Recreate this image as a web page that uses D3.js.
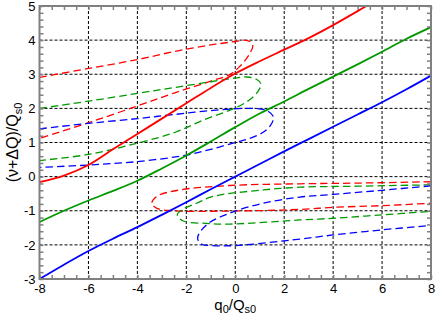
<!DOCTYPE html>
<html>
<head>
<meta charset="utf-8">
<script src="https://cdn.jsdelivr.net/npm/d3@7"></script>
<style>
body { margin: 0; background: #fff; }
text { font-family: "Liberation Sans", Arial, sans-serif; }
</style>
</head>
<body>
<svg id="chart" width="436" height="318"></svg>
<script>
// tick labels
var xTicks = [-8, -6, -4, -2, 0, 2, 4, 6, 8];
var yTicks = [-3, -2, -1, 0, 1, 2, 3, 4, 5];

// solid curves [q0/Qs0, (v+dQ)/Qs0]
var redSolid = [[-8,-0.16],[-7,0.03],[-6,0.34],[-5,0.8],[-4,1.25],[-3,1.7],[-2,2.15],[-1,2.6],[0,3.02],[1,3.38],[2,3.72],[3,4.06],[4,4.44],[5,4.85],[5.6,5.1]];
var greenSolid = [[-8,-1.33],[-7,-1.0],[-6,-0.7],[-5,-0.42],[-4,-0.12],[-3,0.24],[-2,0.62],[-1,1.03],[0,1.45],[1,1.85],[2,2.2],[3,2.57],[4,2.93],[5,3.29],[6,3.66],[7,4.04],[8,4.38]];
var blueSolid = [[-8,-3.0],[-7,-2.58],[-6,-2.18],[-5,-1.82],[-4,-1.48],[-3,-1.12],[-2,-0.75],[-1,-0.37],[0,0],[1,0.37],[2,0.74],[3,1.1],[4,1.46],[5,1.82],[6,2.18],[7,2.56],[8,2.96]];

// dashed loops, upper set (open to the left)
var redLoopUp = [[-8,2.91],[-6,3.17],[-4,3.43],[-2.4,3.68],[-1,3.86],[0,3.96],[0.35,4.0],[0.6,3.96],[0.72,3.84],[0.62,3.64],[0.45,3.45],[0.2,3.24],[-0.2,3.0],[-1,2.8],[-2.5,2.45],[-4,2.07],[-6,1.58],[-8,1.12]];
var greenLoopUp = [[-8,2.0],[-6,2.21],[-4,2.44],[-2.5,2.61],[-1,2.78],[0,2.89],[0.46,2.92],[0.85,2.86],[1.05,2.71],[0.93,2.5],[0.6,2.26],[0.06,2.03],[-1.3,1.66],[-2.45,1.3],[-4,0.98],[-6,0.65],[-8,0.47]];
var blueLoopUp = [[-8,1.4],[-6,1.56],[-4,1.7],[-2.5,1.82],[-0.6,1.96],[0.6,2.0],[1.28,1.94],[1.56,1.75],[1.44,1.5],[1.14,1.3],[0.6,1.12],[0,1.0],[-1,0.8],[-2,0.63],[-4,0.44],[-6,0.34],[-8,0.27]];

// dashed loops, lower set (open to the right)
var redLoopLow = [[8,-0.15],[5,-0.19],[2.64,-0.21],[-0.22,-0.26],[-2.26,-0.39],[-3.21,-0.58],[-3.41,-0.78],[-3.2,-0.93],[-2.53,-1.0],[-0.22,-1.01],[2.64,-0.96],[4,-0.9],[6,-0.85],[8,-0.78]];
var greenLoopLow = [[8,-0.24],[5,-0.28],[2.64,-0.31],[1.14,-0.39],[-0.9,-0.58],[-1.58,-0.78],[-2.12,-0.95],[-2.37,-1.12],[-2.12,-1.3],[-1.2,-1.37],[-0.22,-1.39],[2.64,-1.27],[4,-1.22],[6,-1.12],[8,-1.02]];
var blueLoopLow = [[8,-0.27],[6,-0.4],[4,-0.52],[2.64,-0.6],[1.14,-0.78],[-0.22,-1.07],[-1.17,-1.41],[-1.54,-1.8],[-1.37,-1.98],[-1.03,-2.02],[0,-2.02],[2.64,-1.83],[4,-1.71],[6,-1.56],[8,-1.43]];

var plotL = 39.5, plotR = 431, plotT = 6, plotB = 279;

var svg = d3.select("#chart");

var x = d3.scaleLinear().domain([-8, 8]).range([plotL, plotR]);
var y = d3.scaleLinear().domain([-3, 5]).range([plotB, plotT]);

var xMinor = d3.range(-8, 8.01, 0.5);
var yMinor = d3.range(-3, 5.01, 0.2);

// grid
var grid = svg.append("g")
  .attr("stroke", "#000")
  .attr("stroke-width", 1)
  .attr("stroke-dasharray", "3,2");
grid.selectAll(".gx")
  .data(xTicks.slice(1, -1))
  .enter().append("line")
    .attr("x1", function (d) { return x(d); })
    .attr("x2", function (d) { return x(d); })
    .attr("y1", plotT)
    .attr("y2", plotB);
grid.selectAll(".gy")
  .data(yTicks.slice(1, -1))
  .enter().append("line")
    .attr("x1", plotL)
    .attr("x2", plotR)
    .attr("y1", function (d) { return y(d); })
    .attr("y2", function (d) { return y(d); });

// curves
svg.append("clipPath").attr("id", "clip")
  .append("rect")
    .attr("x", plotL).attr("y", plotT)
    .attr("width", plotR - plotL).attr("height", plotB - plotT);

var line = d3.line()
  .x(function (d) { return x(d[0]); })
  .y(function (d) { return y(d[1]); })
  .curve(d3.curveCatmullRom.alpha(0.5));

var curves = [
  {pts: redLoopUp, color: "#ff0000", dash: true},
  {pts: greenLoopUp, color: "#009a00", dash: true},
  {pts: blueLoopUp, color: "#0000ff", dash: true},
  {pts: redLoopLow, color: "#ff0000", dash: true},
  {pts: greenLoopLow, color: "#009a00", dash: true},
  {pts: blueLoopLow, color: "#0000ff", dash: true},
  {pts: redSolid, color: "#ff0000", dash: false},
  {pts: greenSolid, color: "#009a00", dash: false},
  {pts: blueSolid, color: "#0000ff", dash: false}
];

svg.append("g")
  .attr("clip-path", "url(#clip)")
  .selectAll("path")
  .data(curves)
  .enter().append("path")
    .attr("d", function (d) { return line(d.pts); })
    .attr("fill", "none")
    .attr("stroke", function (d) { return d.color; })
    .attr("stroke-width", function (d) { return d.dash ? 1.3 : 1.8; })
    .attr("stroke-dasharray", function (d) { return d.dash ? "7.5,4" : null; });

// minor ticks on all four sides, pointing inward
function tickStyle(g) {
  g.select(".domain").remove();
  g.selectAll(".tick line").attr("stroke", "#808080").attr("stroke-width", 1.5);
}
svg.append("g").attr("transform", "translate(0," + plotB + ")")
  .call(d3.axisBottom(x).tickValues(xMinor).tickSize(-4).tickFormat(""))
  .call(tickStyle);
svg.append("g").attr("transform", "translate(0," + plotT + ")")
  .call(d3.axisTop(x).tickValues(xMinor).tickSize(-4).tickFormat(""))
  .call(tickStyle);
svg.append("g").attr("transform", "translate(" + plotL + ",0)")
  .call(d3.axisLeft(y).tickValues(yMinor).tickSize(-4).tickFormat(""))
  .call(tickStyle);
svg.append("g").attr("transform", "translate(" + plotR + ",0)")
  .call(d3.axisRight(y).tickValues(yMinor).tickSize(-4).tickFormat(""))
  .call(tickStyle);

// labelled axes
var fmt = function (d) { return String(d); };
var xAxis = svg.append("g").attr("transform", "translate(0," + plotB + ")")
  .call(d3.axisBottom(x).tickValues(xTicks).tickSize(0).tickPadding(5).tickFormat(fmt));
xAxis.select(".domain").remove();
xAxis.attr("font-family", null).attr("font-size", 13);
xAxis.selectAll("text").attr("fill", "#000");

var yAxis = svg.append("g").attr("transform", "translate(" + plotL + ",0)")
  .call(d3.axisLeft(y).tickValues(yTicks).tickSize(0).tickPadding(4).tickFormat(fmt));
yAxis.select(".domain").remove();
yAxis.attr("font-family", null).attr("font-size", 13);
yAxis.selectAll("text").attr("fill", "#000");

// frame
svg.append("rect")
  .attr("x", plotL).attr("y", plotT)
  .attr("width", plotR - plotL).attr("height", plotB - plotT)
  .attr("fill", "none")
  .attr("stroke", "#808080")
  .attr("stroke-width", 2);

// axis titles
var xt = svg.append("text")
  .attr("x", (plotL + plotR) / 2)
  .attr("y", 310)
  .attr("text-anchor", "middle")
  .attr("font-size", 15);
xt.append("tspan").text("q");
xt.append("tspan").attr("font-size", 11).attr("dy", 3).text("0");
xt.append("tspan").attr("dy", -3).text("/Q");
xt.append("tspan").attr("font-size", 11).attr("dy", 3).text("s0");

var yt = svg.append("text")
  .attr("transform", "translate(18," + (plotT + plotB) / 2 + ") rotate(-90)")
  .attr("text-anchor", "middle")
  .attr("font-size", 16);
yt.append("tspan").text("(\u03bd+\u0394Q)/Q");
yt.append("tspan").attr("font-size", 11).attr("dy", 4).text("s0");
</script>
</body>
</html>
